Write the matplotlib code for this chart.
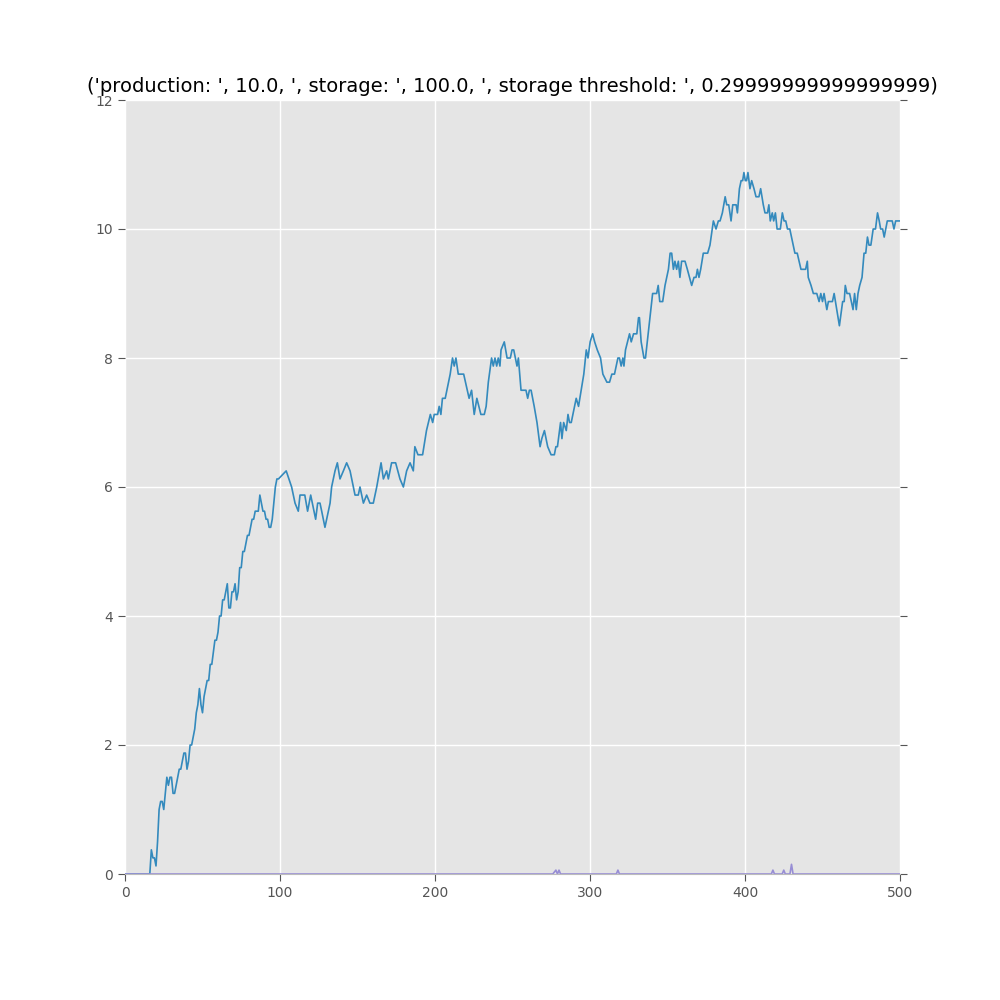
import matplotlib
matplotlib.use("Agg")
import matplotlib.pyplot as plt

x_main = [0,16,17,18,19,20,21,22,23,24,25,26,27,28,29,30,31,32,33,35,36,37,38,39,40,41,42,43,45,46,47,48,49,50,51,52,53,54,55,56,58,59,60,61,62,63,64,65,66,67,68,69,70,71,72,73,74,75,76,77,78,79,80,81,82,83,84,86,87,88,89,90,91,92,93,94,95,96,97,98,99,
          104,107.5,109.7,111.8,112.9,116,117.8,119.8,123,124.3,125.8,126.9,129,132.3,133.3,135.5,137,138.7,140.9,143,145.2,148.4,150.5,151.6,153.8,155.9,158,160.2,162.4,165.2,166.7,168.8,169.9,172,174.6,177.4,179.6,181.7,183.9,186,187,189,192,194.5,197,198.5,199.5,201.7,202.7,203.8,204.8,206.6,209.8,211.3,212.4,213.5,215,218.5,222,223.6,225.3,227,229.6,231.8,233,234.4,236.5,237.6,238.7,239.8,240.8,241.9,242.6,244.7,246.5,248.6,249.7,250.8,252.9,253.8,255.5,258.7,259.8,260.9,262,264,265.8,267.8,268.9,270.6,272.7,274.9,277,278,279,281,281.9,283,284.7,285.8,286.8,287.9,291.1,292.6,296,297.6,298.7,300.1,301.7,303,304.7,306.8,308.3,310.9,312.6,314.1,315.8,318,319,320.1,321.2,321.9,322.9,325.5,326.6,328.1,330.2,331.3,331.9,333,334.8,335.8,
          340.4,343,344,345,346.9,348.4,350.6,351.7,352.7,353.8,354.8,355.9,357,358,359.1,361.3,362.8,365.6,367.1,368.4,369.3,370.3,371.4,373.1,375.9,377.4,379.6,381.3,382.8,383.9,385.4,387.2,388.2,389.5,391,392.1,394.3,395.1,396.4,397.5,398.5,399.3,400.2,401,401.9,403.2,404.3,405.8,407.1,409,410.1,411.8,412.9,414.5,415.4,416.3,417.6,418.5,419.6,420.7,422.8,424.1,425.2,426.3,427.4,428.9,432.2,433.7,436.1,439.1,440.2,440.8,442.6,444.1,446.3,447.8,448.9,450,451,452.8,453.8,456.4,457.5,460.9,463,464,464.7,465.8,467.5,469.7,470.7,471.8,472.9,474,475.5,476.8,477.9,479,480,481.2,482.7,484.2,485.5,486.6,487.5,488.8,489.8,491.8,495,496.1,497.2,499.5]
y_main = [0,0,0.375,0.25,0.25,0.125,0.5,1.0,1.125,1.125,1.0,1.25,1.5,1.375,1.5,1.5,1.25,1.25,1.375,1.625,1.625,1.75,1.875,1.875,1.625,1.75,2.0,2.0,2.25,2.5,2.625,2.875,2.625,2.5,2.75,2.875,3.0,3.0,3.25,3.25,3.625,3.625,3.75,4.0,4.0,4.25,4.25,4.375,4.5,4.125,4.125,4.375,4.375,4.5,4.25,4.375,4.75,4.75,5.0,5.0,5.125,5.25,5.25,5.375,5.5,5.5,5.625,5.625,5.875,5.75,5.625,5.625,5.5,5.5,5.375,5.375,5.5,5.75,6.0,6.125,6.125,
          6.25,6.0,5.75,5.625,5.875,5.875,5.625,5.875,5.5,5.75,5.75,5.625,5.375,5.75,6.0,6.25,6.375,6.125,6.25,6.375,6.25,5.875,5.875,6.0,5.75,5.875,5.75,5.75,6.0,6.375,6.125,6.25,6.125,6.375,6.375,6.125,6.0,6.25,6.375,6.25,6.625,6.5,6.5,6.875,7.125,7.0,7.125,7.125,7.25,7.125,7.375,7.375,7.75,8.0,7.875,8.0,7.75,7.75,7.375,7.5,7.125,7.375,7.125,7.125,7.25,7.625,8.0,7.875,8.0,7.875,8.0,7.875,8.125,8.25,8.0,8.0,8.125,8.125,7.875,8.0,7.5,7.5,7.375,7.5,7.5,7.25,7.0,6.625,6.75,6.875,6.625,6.5,6.5,6.625,6.625,7.0,6.75,7.0,6.875,7.125,7.0,7.0,7.375,7.25,7.75,8.125,8.0,8.25,8.375,8.25,8.125,8.0,7.75,7.625,7.625,7.75,7.75,8.0,8.0,7.875,8.0,7.875,8.125,8.375,8.25,8.375,8.375,8.625,8.625,8.25,8.0,8.0,
          9.0,9.0,9.125,8.875,8.875,9.125,9.375,9.625,9.625,9.375,9.5,9.375,9.5,9.25,9.5,9.5,9.375,9.125,9.25,9.25,9.375,9.25,9.375,9.625,9.625,9.75,10.125,10.0,10.125,10.125,10.25,10.5,10.375,10.375,10.125,10.375,10.375,10.25,10.625,10.75,10.75,10.875,10.75,10.75,10.875,10.625,10.75,10.625,10.5,10.5,10.625,10.375,10.25,10.25,10.375,10.125,10.25,10.125,10.25,10.0,10.0,10.25,10.125,10.125,10.0,10.0,9.625,9.625,9.375,9.375,9.5,9.25,9.125,9.0,9.0,8.875,9.0,8.875,9.0,8.75,8.875,8.875,9.0,8.5,8.875,8.875,9.125,9.0,9.0,8.75,9.0,8.75,9.0,9.125,9.25,9.625,9.625,9.875,9.75,9.75,10.0,10.0,10.25,10.125,10.0,10.0,9.875,10.125,10.125,10.0,10.125,10.125]

x_low = [0,276,278,279,280,281,282,316,317,318,319,416,417,418,419,423,424,425,426,428,429,430,431,432,500]
y_low = [0,0,0.06,0,0.06,0,0,0,0,0.06,0,0,0,0.06,0,0,0,0.06,0,0,0,0.15,0,0,0]

title = "('production: ', 10.0, ', storage: ', 100.0, ', storage threshold: ', 0.29999999999999999)"

fig = plt.figure(figsize=(10, 10), dpi=100)
ax = fig.add_axes([0.125, 0.126, 0.775, 0.774])
ax.set_facecolor('#E5E5E5')
ax.plot(x_main, y_main, color='#348ABD', lw=1.2)
ax.plot(x_low, y_low, color='#988ED5', lw=1.2)
ax.set_xlim(0, 500)
ax.set_ylim(0, 12)
ax.set_xticks(range(0, 501, 100))
ax.set_yticks(range(0, 13, 2))
ax.grid(True, color='white', lw=1)
ax.set_axisbelow(True)
for s in ['top', 'right', 'left']:
    ax.spines[s].set_visible(False)
ax.spines['bottom'].set_color('#BCBCBC')
ax.tick_params(axis='both', direction='out', colors='#555555', labelsize=10, length=5,
               right=True, top=False, labelcolor='#555555')
ax.set_title(title, fontsize=14)
fig.savefig('out.png')
